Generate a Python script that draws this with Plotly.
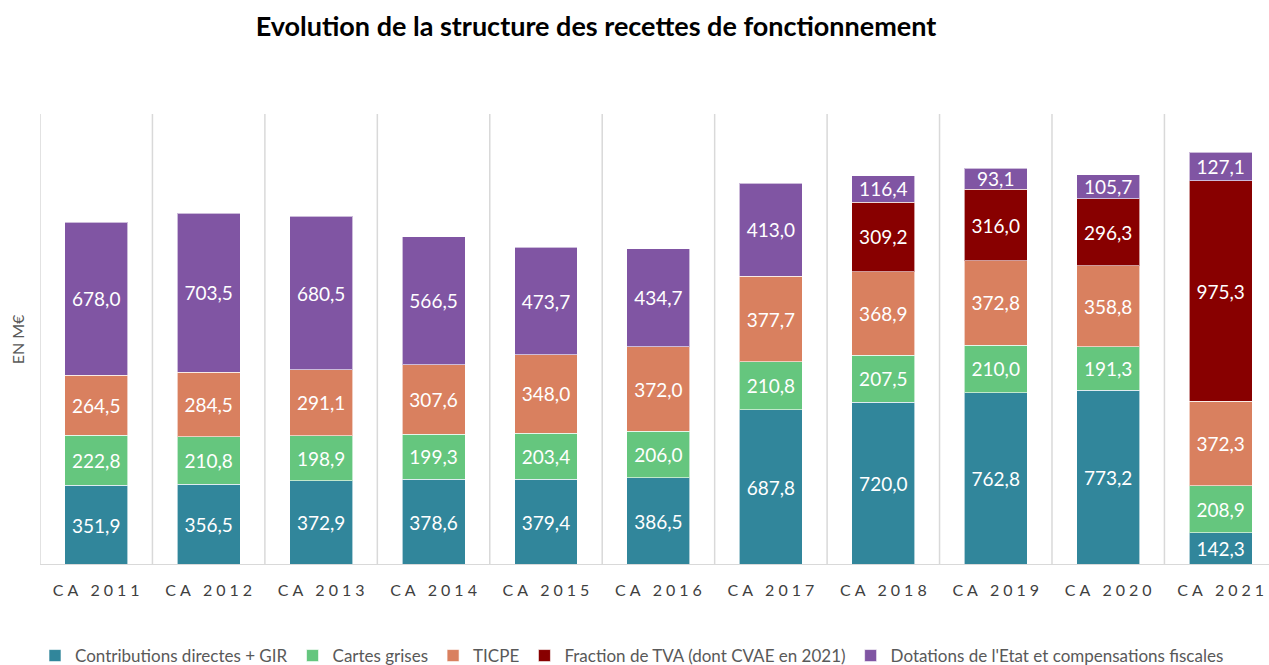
import plotly.graph_objects as go

categories = ["CA 2011", "CA 2012", "CA 2013", "CA 2014", "CA 2015", "CA 2016",
              "CA 2017", "CA 2018", "CA 2019", "CA 2020", "CA 2021"]

contributions = [351.9, 356.5, 372.9, 378.6, 379.4, 386.5, 687.8, 720.0, 762.8, 773.2, 142.3]
cartes_grises = [222.8, 210.8, 198.9, 199.3, 203.4, 206.0, 210.8, 207.5, 210.0, 191.3, 208.9]
ticpe = [264.5, 284.5, 291.1, 307.6, 348.0, 372.0, 377.7, 368.9, 372.8, 358.8, 372.3]
fraction_tva = [None, None, None, None, None, None, None, 309.2, 316.0, 296.3, 975.3]
dotations = [678.0, 703.5, 680.5, 566.5, 473.7, 434.7, 413.0, 116.4, 93.1, 105.7, 127.1]

series = [
    ("Contributions directes + GIR", contributions, "#31869B"),
    ("Cartes grises", cartes_grises, "#65C67E"),
    ("TICPE", ticpe, "#D9805F"),
    ("Fraction de TVA (dont CVAE en 2021)", fraction_tva, "#880000"),
    ("Dotations de l'Etat et compensations fiscales", dotations, "#8055A3"),
]

FONT = "Lato"

def fmt(v):
    return "" if v is None else f"{v:.1f}".replace(".", ",")

def spaced(s):
    # emulate the wide letter spacing of the reference axis labels
    return "\u2005".join(list(s))

xpos = list(range(len(categories)))

fig = go.Figure()
for name, vals, color in series:
    fig.add_trace(go.Bar(
        x=xpos, y=vals, name=name,
        marker=dict(color=color, line=dict(color="rgba(255,255,255,0.6)", width=1)),
        width=0.56,
        text=[fmt(v) for v in vals],
        textposition="inside", insidetextanchor="middle",
        textangle=0,
        textfont=dict(family=FONT, size=19, color="white"),
        constraintext="none",
        hoverinfo="skip",
    ))

# vertical separators between categories
for k in range(len(categories) + 1):
    fig.add_shape(type="line", xref="x", yref="paper",
                  x0=k - 0.5, x1=k - 0.5, y0=0, y1=1,
                  line=dict(color="#D9D9D9", width=1.5), layer="below")

fig.update_layout(
    width=1269, height=665,
    barmode="stack",
    plot_bgcolor="white", paper_bgcolor="white",
    margin=dict(l=40, r=0, t=114, b=100, autoexpand=False),
    font=dict(family=FONT, color="#404040"),
    title=dict(text="<b>Evolution de la structure des recettes de fonctionnement</b>",
               x=596 / 1269, xref="container", xanchor="center",
               y=1 - 27 / 665, yref="container", yanchor="middle",
               font=dict(family=FONT, size=27, color="black")),
    showlegend=True,
    legend=dict(orientation="h", x=35 / 1269, xref="container", xanchor="left",
                y=1 - 656 / 665, yref="container", yanchor="middle",
                font=dict(family=FONT, size=17, color="#595959"),
                traceorder="normal", itemwidth=30),
    xaxis=dict(range=[-0.5, 10.43], tickvals=xpos,
               ticktext=[spaced(c) for c in categories],
               tickfont=dict(family=FONT, size=16, color="#404040"),
               showgrid=False, zeroline=False, showline=False, ticks="",
               ticklabelstandoff=14),
    yaxis=dict(range=[0, 1995], showticklabels=False, showgrid=False, zeroline=False,
               showline=False, ticks="",
               title=dict(text="EN M€", font=dict(family=FONT, size=16, color="#595959"),
                          standoff=10)),
)
fig.add_shape(type="line", xref="paper", yref="y", x0=0, x1=1, y0=0, y1=0,
              line=dict(color="#D9D9D9", width=2))

fig.write_html("out.html", config={"displayModeBar": False},
               post_script="document.body.style.margin='0';")
